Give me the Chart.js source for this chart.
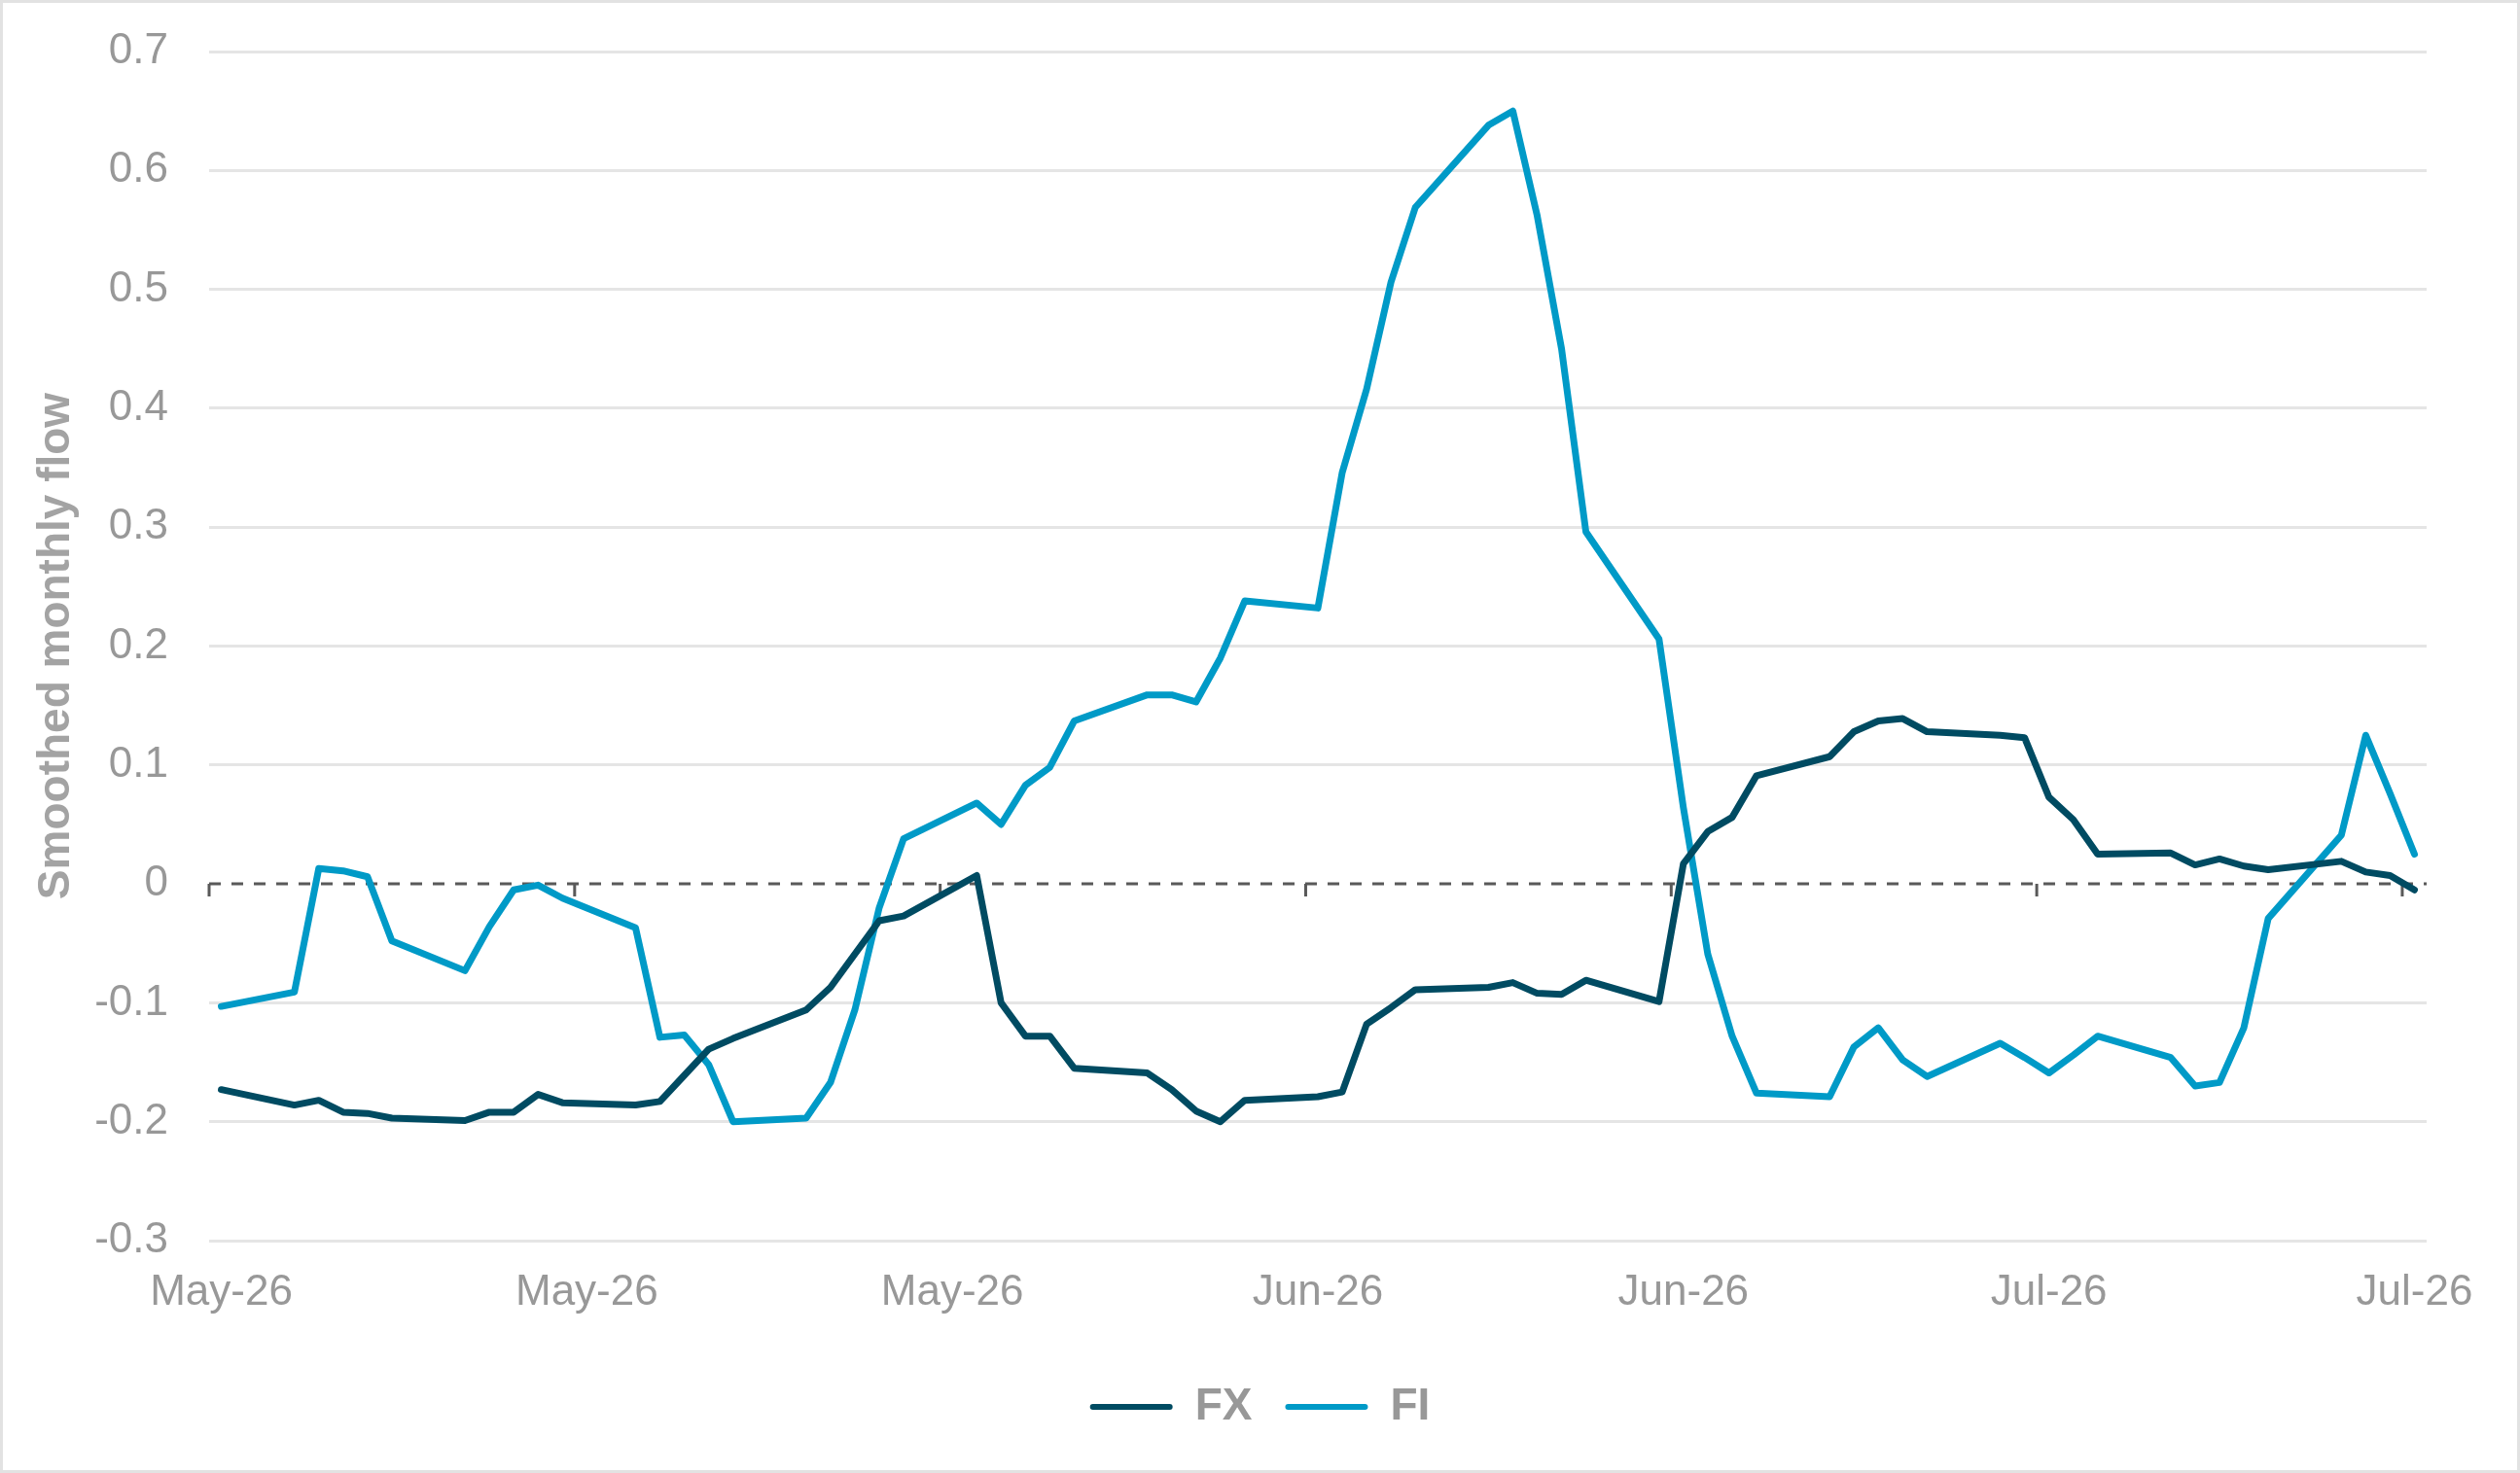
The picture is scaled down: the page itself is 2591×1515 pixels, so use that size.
<!DOCTYPE html>
<html lang="en">

<head>
    <meta charset="UTF-8">
    <script src="https://cdn.jsdelivr.net/npm/chart.js"></script>
    <title>Smoothed monthly flow</title>
    <style>
        html, body { margin: 0; padding: 0; background: #fff; }
        canvas { display: block; }
    </style>
</head>

<body>
    <canvas id="flowChart" width="2591" height="1515"></canvas>
    <script>

        // business days, May 1 - Jul 30 2026
        const dates = [
            '2026-05-01', '2026-05-04', '2026-05-05', '2026-05-06', '2026-05-07', '2026-05-08',
            '2026-05-11', '2026-05-12', '2026-05-13', '2026-05-14', '2026-05-15',
            '2026-05-18', '2026-05-19', '2026-05-20', '2026-05-21', '2026-05-22',
            '2026-05-25', '2026-05-26', '2026-05-27', '2026-05-28', '2026-05-29',
            '2026-06-01', '2026-06-02', '2026-06-03', '2026-06-04', '2026-06-05',
            '2026-06-08', '2026-06-09', '2026-06-10', '2026-06-11', '2026-06-12',
            '2026-06-15', '2026-06-16', '2026-06-17', '2026-06-18', '2026-06-19',
            '2026-06-22', '2026-06-23', '2026-06-24', '2026-06-25', '2026-06-26',
            '2026-06-29', '2026-06-30', '2026-07-01', '2026-07-02', '2026-07-03',
            '2026-07-06', '2026-07-07', '2026-07-08', '2026-07-09', '2026-07-10',
            '2026-07-13', '2026-07-14', '2026-07-15', '2026-07-16', '2026-07-17',
            '2026-07-20', '2026-07-21', '2026-07-22', '2026-07-23', '2026-07-24',
            '2026-07-27', '2026-07-28', '2026-07-29', '2026-07-30'
        ];

        const fx = [
            -0.173, -0.186, -0.182, -0.192, -0.193, -0.197,
            -0.199, -0.192, -0.192, -0.177, -0.184,
            -0.186, -0.183, -0.161, -0.139, -0.130,
            -0.106, -0.087, -0.059, -0.031, -0.027,
            0.007, -0.100, -0.128, -0.128, -0.155,
            -0.159, -0.173, -0.191, -0.200, -0.182,
            -0.179, -0.175, -0.118, -0.104, -0.089,
            -0.087, -0.083, -0.092, -0.093, -0.081,
            -0.099, 0.017, 0.044, 0.056, 0.091,
            0.107, 0.128, 0.137, 0.139, 0.128,
            0.125, 0.123, 0.073, 0.054, 0.025,
            0.026, 0.016, 0.021, 0.015, 0.012,
            0.019, 0.010, 0.007, -0.005
        ];

        const fi = [
            -0.103, -0.091, 0.013, 0.011, 0.006, -0.048,
            -0.073, -0.036, -0.005, -0.001, -0.012,
            -0.037, -0.129, -0.127, -0.152, -0.200,
            -0.197, -0.167, -0.106, -0.020, 0.038,
            0.068, 0.050, 0.083, 0.098, 0.137,
            0.159, 0.159, 0.153, 0.190, 0.238,
            0.232, 0.346, 0.416, 0.506, 0.569,
            0.638, 0.650, 0.562, 0.450, 0.296,
            0.206, 0.064, -0.059, -0.128, -0.176,
            -0.179, -0.137, -0.121, -0.148, -0.162,
            -0.134, -0.146, -0.159, -0.144, -0.128,
            -0.146, -0.170, -0.167, -0.121, -0.029,
            0.041, 0.125, 0.076, 0.025
        ];

        // x axis labels, every 15 days from May 1
        const tickDays = [0, 15, 30, 45, 60, 75, 90];
        const tickLabels = ['May-26', 'May-26', 'May-26', 'Jun-26', 'Jun-26', 'Jul-26', 'Jul-26'];

        const startDate = Date.UTC(2026, 4, 1);
        const dayOf = (s) => (Date.parse(s + 'T00:00:00Z') - startDate) / 86400000;

        const toPoints = (vals) => vals.map((v, i) => ({ x: dayOf(dates[i]), y: v }));

        const FONT = "'Liberation Sans', Arial, sans-serif";
        const GREY = '#989898';

        // frame, dashed zero line and the little date ticks hanging off it
        const decor = {
            id: 'decor',
            beforeDraw: (chart) => {
                const ctx = chart.ctx;
                ctx.save();
                ctx.fillStyle = '#ffffff';
                ctx.fillRect(0, 0, chart.width, chart.height);
                ctx.strokeStyle = '#e2e2e2';
                ctx.lineWidth = 3;
                ctx.strokeRect(1.5, 1.5, chart.width - 3, chart.height - 3);
                ctx.restore();
            },
            beforeDatasetsDraw: (chart) => {
                const ctx = chart.ctx;
                const xs = chart.scales.x;
                const y0 = chart.scales.y.getPixelForValue(0);
                ctx.save();
                ctx.strokeStyle = '#595959';
                ctx.lineWidth = 3;
                ctx.setLineDash([12, 11]);
                ctx.beginPath();
                ctx.moveTo(chart.chartArea.left, y0);
                ctx.lineTo(chart.chartArea.right, y0);
                ctx.stroke();
                ctx.setLineDash([]);
                ctx.beginPath();
                tickDays.forEach(d => {
                    const px = xs.getPixelForValue(d - 0.5);
                    ctx.moveTo(px, y0);
                    ctx.lineTo(px, y0 + 13);
                });
                ctx.stroke();
                ctx.restore();
            }
        };

        const config = {
            type: 'line',
            data: {
                datasets: [{
                    label: 'FX',
                    data: toPoints(fx),
                    borderColor: '#004b62',
                    backgroundColor: '#004b62',
                    borderWidth: 7
                },
                {
                    label: 'FI',
                    data: toPoints(fi),
                    borderColor: '#009ac7',
                    backgroundColor: '#009ac7',
                    borderWidth: 7
                }]
            },
            options: {
                responsive: false,
                devicePixelRatio: 1,
                animation: false,
                layout: {
                    padding: { top: 53, right: 0, bottom: 35, left: 0 }
                },
                elements: {
                    point: { radius: 0 },
                    line: { tension: 0, borderJoinStyle: 'round', borderCapStyle: 'round' }
                },
                scales: {
                    x: {
                        type: 'linear',
                        min: -0.5,
                        max: 90.5,
                        afterBuildTicks: (scale) => {
                            scale.ticks = tickDays.map(v => ({ value: v }));
                        },
                        afterFit: (scale) => {
                            scale.height = 114;
                            scale.paddingRight = 96;
                        },
                        grid: { display: false, drawTicks: false },
                        border: { display: false },
                        ticks: {
                            autoSkip: false,
                            maxRotation: 0,
                            padding: 27,
                            color: GREY,
                            font: { family: FONT, size: 44 },
                            callback: (v) => tickLabels[tickDays.indexOf(v)]
                        }
                    },
                    y: {
                        min: -0.3,
                        max: 0.7,
                        afterFit: (scale) => {
                            scale.width = 215;
                            scale.paddingTop = 0;
                            scale.paddingBottom = 0;
                        },
                        ticks: {
                            stepSize: 0.1,
                            padding: 42,
                            color: GREY,
                            font: { family: FONT, size: 44 },
                            callback: (v) => String(Math.round(v * 10) / 10)
                        },
                        grid: {
                            drawTicks: false,
                            lineWidth: 3,
                            color: (c) => (c.tick && Math.abs(c.tick.value) < 1e-9) ? 'rgba(0,0,0,0)' : '#e5e5e5'
                        },
                        border: { display: false },
                        title: {
                            display: true,
                            text: 'Smoothed monthly flow',
                            color: '#a3a3a3',
                            font: { family: FONT, size: 46, weight: 'bold' },
                            padding: { top: 31, bottom: 0 }
                        }
                    }
                },
                plugins: {
                    legend: {
                        position: 'bottom',
                        labels: {
                            boxWidth: 85,
                            boxHeight: 6,
                            padding: 34,
                            useBorderRadius: true,
                            borderRadius: 3,
                            color: GREY,
                            font: { family: FONT, size: 46, weight: 'bold' },
                            generateLabels: (chart) => {
                                const items = Chart.defaults.plugins.legend.labels.generateLabels(chart);
                                items.forEach(it => { it.lineWidth = 0; });
                                return items;
                            }
                        }
                    },
                    tooltip: { enabled: false }
                }
            },
            plugins: [decor]
        };

        const flowChart = new Chart(
            document.getElementById('flowChart'),
            config
        );
    </script>
</body>

</html>
